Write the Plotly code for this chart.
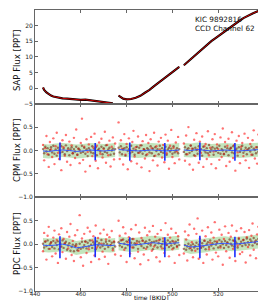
import plotly.graph_objects as go
from plotly.subplots import make_subplots

# ---------------- data ----------------
SAP_T = [443.5, 444, 445, 446, 447, 448, 449, 450, 452, 454, 456, 458, 460, 462, 464, 466, 468, 470, 472, 474, None,
         476.5, 477.5, 478.5, 480, 482, 484, 486, 488, 490, 492, 494, 496, 498, 500, 502, 503, None,
         505, 507, 509, 511, 513, 515, 517, 519, 521, 523, 525, 527, 529, 531, 533, 535, 537, 538]
SAP_V = [0.2, -0.6, -1.4, -2.0, -2.4, -2.7, -2.9, -3.1, -3.3, -3.4, -3.6, -3.7, -3.8, -3.7, -3.9, -4.0, -4.2, -4.4, -4.6, -4.9, None,
         -2.4, -3.0, -3.4, -3.6, -3.5, -3.1, -2.5, -1.5, -0.6, 0.6, 1.7, 2.8, 3.9, 4.9, 6.2, 6.8, None,
         7.3, 8.6, 10.0, 11.3, 12.6, 13.8, 15.0, 16.1, 17.2, 18.3, 19.4, 20.4, 21.4, 22.4, 23.2, 23.9, 24.5, 24.8]

T = [443.5, 444.0, 444.5, 445.0, 445.5, 446.0, 446.5, 447.0, 447.5, 448.0,
     448.5, 449.0, 449.5, 450.0, 450.5, 451.0, 451.5, 452.0, 452.5, 453.0,
     453.5, 454.0, 454.5, 455.0, 455.5, 456.0, 456.5, 457.0, 457.5, 458.0,
     458.5, 459.0, 459.5, 460.0, 460.5, 461.0, 461.5, 462.0, 462.5, 463.0,
     463.5, 464.0, 464.5, 465.0, 465.5, 466.0, 466.5, 467.0, 467.5, 468.0,
     468.5, 469.0, 469.5, 470.0, 470.5, 471.0, 471.5, 472.0, 472.5, 473.0,
     473.5, 474.0, 474.5, 475.0,
     476.5, 477.0, 477.5, 478.0, 478.5, 479.0, 479.5, 480.0, 480.5, 481.0,
     481.5, 482.0, 482.5, 483.0, 483.5, 484.0, 484.5, 485.0, 485.5, 486.0,
     486.5, 487.0, 487.5, 488.0, 488.5, 489.0, 489.5, 490.0, 490.5, 491.0,
     491.5, 492.0, 492.5, 493.0, 493.5, 494.0, 494.5, 495.0, 495.5, 496.0,
     496.5, 497.0, 497.5, 498.0, 498.5, 499.0, 499.5, 500.0, 500.5, 501.0,
     501.5, 502.0, 502.5, 503.0,
     505.0, 505.5, 506.0, 506.5, 507.0, 507.5, 508.0, 508.5, 509.0, 509.5,
     510.0, 510.5, 511.0, 511.5, 512.0, 512.5, 513.0, 513.5, 514.0, 514.5,
     515.0, 515.5, 516.0, 516.5, 517.0, 517.5, 518.0, 518.5, 519.0, 519.5,
     520.0, 520.5, 521.0, 521.5, 522.0, 522.5, 523.0, 523.5, 524.0, 524.5,
     525.0, 525.5, 526.0, 526.5, 527.0, 527.5, 528.0, 528.5, 529.0, 529.5,
     530.0, 530.5, 531.0, 531.5, 532.0, 532.5, 533.0, 533.5, 534.0, 534.5,
     535.0, 535.5, 536.0, 536.5, 537.0, 537.5, 538.0]

CPM_RED = [0.12, -0.21, 0.05, 0.31, -0.08, -0.35, 0.18, 0.02, -0.14, 0.26,
           -0.29, 0.09, 0.38, -0.05, -0.18, 0.14, -0.42, 0.22, 0.07, -0.11,
           0.33, -0.24, 0.01, 0.19, -0.31, 0.11, -0.06, 0.27, -0.16, 0.45,
           -0.09, 0.04, -0.27, 0.16, 0.68, -0.2, 0.08, -0.45, 0.24, -0.03,
           0.13, -0.33, 0.29, -0.12, 0.06, 0.36, -0.22, 0.1, -0.38, 0.17,
           -0.07, 0.25, -0.15, 0.03, 0.4, -0.26, 0.12, -0.1, 0.21, -0.34,
           0.08, 0.28, -0.19, 0.15,
           0.6, -0.18, 0.22, 0.04, -0.3, 0.35, -0.09, 0.14, -0.4, 0.26,
           0.01, -0.23, 0.18, 0.42, -0.13, 0.07, -0.28, 0.3, -0.05, 0.11,
           -0.36, 0.2, 0.03, -0.17, 0.33, -0.08, 0.16, -0.44, 0.24, 0.05,
           -0.21, 0.38, -0.11, 0.09, -0.32, 0.19, 0.02, 0.27, -0.15, 0.12,
           -0.25, 0.34, -0.06, 0.21, -0.39, 0.1, 0.44, -0.14, 0.06, -0.27,
           0.17, -0.02, 0.29, -0.19,
           0.15, -0.22, 0.32, -0.08, 0.5, -0.3, 0.11, 0.04, -0.41, 0.23,
           -0.12, 0.37, 0.02, -0.26, 0.19, -0.05, 0.3, -0.35, 0.09, 0.14,
           -0.18, 0.41, -0.1, 0.06, -0.29, 0.24, -0.02, 0.35, -0.38, 0.13,
           0.03, -0.2, 0.28, -0.14, 0.47, -0.07, 0.18, -0.33, 0.1, 0.25,
           -0.24, 0.05, 0.39, -0.16, 0.12, -0.43, 0.21, -0.04, 0.31, -0.27,
           0.08, 0.16, -0.12, 0.36, -0.21, 0.01, 0.27, -0.37, 0.14, -0.09,
           0.22, 0.43, -0.17, 0.07, -0.28, 0.34, 0.1]

PDC_RED = [-0.15, 0.24, 0.06, -0.33, 0.18, 0.37, -0.1, 0.03, -0.26, 0.14,
           0.29, -0.2, 0.09, -0.4, 0.21, -0.06, 0.34, -0.17, 0.11, 0.02,
           -0.31, 0.26, -0.09, 0.16, 0.43, -0.23, 0.07, -0.36, 0.19, -0.04,
           0.3, -0.14, 0.62, -0.28, 0.12, -0.46, 0.22, 0.05, -0.19, 0.35,
           -0.11, 0.27, -0.38, 0.08, 0.17, -0.24, 0.4, -0.07, 0.13, -0.32,
           0.23, 0.01, -0.16, 0.31, -0.27, 0.1, 0.2, -0.42, 0.15, -0.02,
           0.28, -0.13, 0.06, -0.22,
           0.5, 0.18, -0.25, 0.09, 0.36, -0.12, 0.23, -0.38, 0.04, 0.15,
           -0.2, 0.32, -0.07, 0.11, -0.3, 0.41, 0.02, -0.16, 0.25, -0.43,
           0.13, 0.07, -0.22, 0.35, -0.1, 0.19, -0.34, 0.27, 0.01, -0.14,
           0.39, -0.05, 0.16, -0.28, 0.22, 0.08, -0.37, 0.3, -0.09, 0.12,
           -0.19, 0.45, -0.02, 0.2, -0.26, 0.14, 0.33, -0.11, 0.05, -0.4,
           0.24, -0.06, 0.17, -0.23,
           -0.2, 0.27, 0.1, -0.35, 0.19, 0.42, -0.08, 0.04, -0.28, 0.33,
           -0.14, 0.22, 0.55, -0.31, 0.12, -0.05, 0.29, -0.4, 0.08, 0.17,
           -0.22, 0.36, -0.11, 0.03, 0.25, -0.33, 0.14, 0.47, -0.18, 0.06,
           -0.26, 0.31, -0.07, 0.2, -0.44, 0.11, 0.38, -0.15, 0.02, 0.24,
           -0.29, 0.16, 0.4, -0.1, 0.07, -0.36, 0.28, -0.03, 0.13, -0.21,
           0.34, -0.17, 0.09, 0.26, -0.39, 0.15, -0.06, 0.3, -0.24, 0.18,
           0.44, -0.12, 0.05, -0.3, 0.21, 0.37, -0.09]

CPM_CORE = [0.03, -0.06, 0.08, -0.02, 0.05, -0.09, 0.01, 0.07, -0.04, 0.1,
            -0.07, 0.02, -0.11, 0.06, 0.0, -0.05, 0.09, -0.03, 0.04, -0.08,
            0.11, -0.01, 0.05, -0.1, 0.02, 0.07, -0.06, 0.03, -0.02, 0.08,
            -0.09, 0.04, 0.01, -0.05, 0.1, -0.03, 0.06, -0.07, 0.02, -0.12,
            0.05, 0.0, -0.04, 0.09, -0.06, 0.03, 0.07, -0.1, 0.01, 0.04,
            -0.02, 0.08, -0.08, 0.05, -0.03, 0.11, -0.05, 0.02, 0.06, -0.09,
            0.0, 0.04, -0.07, 0.03,
            0.06, -0.04, 0.09, -0.08, 0.02, 0.05, -0.11, 0.07, -0.01, 0.03,
            -0.06, 0.1, -0.03, 0.04, -0.09, 0.01, 0.08, -0.05, 0.06, -0.02,
            0.11, -0.07, 0.03, 0.0, -0.1, 0.05, 0.02, -0.04, 0.09, -0.06,
            0.04, -0.12, 0.07, -0.01, 0.03, -0.08, 0.1, -0.03, 0.05, -0.05,
            0.01, 0.08, -0.09, 0.02, 0.06, -0.02, 0.04, -0.07, 0.09, -0.04,
            0.0, 0.05, -0.06, 0.03,
            -0.03, 0.07, -0.08, 0.02, 0.05, -0.05, 0.1, -0.01, 0.04, -0.1,
            0.06, 0.01, -0.07, 0.09, -0.02, 0.03, -0.11, 0.08, 0.0, -0.04,
            0.05, -0.06, 0.12, -0.03, 0.02, 0.07, -0.09, 0.04, -0.01, 0.06,
            -0.05, 0.1, -0.07, 0.03, 0.0, -0.08, 0.08, -0.02, 0.05, -0.1,
            0.02, 0.06, -0.04, 0.09, -0.06, 0.01, 0.04, -0.11, 0.07, -0.03,
            0.03, 0.1, -0.05, 0.0, 0.06, -0.08, 0.02, 0.05, -0.02, 0.08,
            -0.09, 0.04, 0.01, -0.06, 0.07, -0.03, 0.05]

PDC_CORE = [0.01, -0.07, 0.05, -0.04, 0.08, -0.1, 0.0, 0.04, -0.06, 0.07,
            -0.09, 0.03, -0.02, 0.06, -0.11, 0.02, -0.05, 0.08, -0.08, 0.01,
            0.05, -0.12, -0.03, 0.02, -0.14, -0.06, -0.01, -0.15, -0.04, 0.0,
            -0.13, -0.08, 0.01, -0.1, 0.05, -0.07, -0.02, 0.06, -0.09, 0.03,
            -0.05, 0.08, -0.01, -0.08, 0.04, 0.0, -0.11, 0.06, -0.03, 0.02,
            -0.07, 0.09, -0.04, 0.01, -0.1, 0.05, 0.0, -0.06, 0.07, -0.02,
            0.03, -0.09, 0.04, -0.05,
            0.04, -0.03, 0.08, -0.06, 0.1, 0.01, -0.08, 0.06, -0.02, 0.09,
            -0.05, 0.03, 0.11, -0.07, 0.02, -0.01, 0.07, -0.1, 0.05, 0.0,
            -0.04, 0.08, -0.08, 0.03, 0.06, -0.06, 0.01, 0.09, -0.03, 0.04,
            -0.11, 0.05, -0.02, 0.07, -0.07, 0.02, 0.1, -0.05, 0.0, 0.06,
            -0.09, 0.03, -0.01, 0.08, -0.06, 0.04, -0.03, 0.07, -0.08, 0.01,
            0.05, -0.04, 0.09, -0.02,
            -0.1, -0.02, -0.12, -0.05, 0.01, -0.09, -0.03, -0.13, 0.0, -0.07,
            -0.04, 0.03, -0.1, -0.01, 0.05, -0.08, 0.02, -0.05, 0.07, -0.11,
            0.0, 0.04, -0.06, 0.08, -0.03, 0.02, -0.09, 0.06, -0.01, 0.03,
            -0.07, 0.09, -0.04, 0.05, 0.0, -0.08, 0.07, -0.02, 0.04, -0.06,
            0.1, 0.01, -0.03, 0.08, -0.05, 0.06, 0.02, -0.07, 0.11, 0.0,
            0.05, -0.04, 0.09, 0.02, -0.02, 0.12, 0.04, -0.01, 0.1, 0.06,
            -0.03, 0.13, 0.03, 0.08, 0.0, 0.11, 0.05]

MED_T = [[443.5, 446, 449, 452, 455, 458, 461, 464, 467, 470, 473, 475],
         [476.5, 479, 482, 485, 488, 491, 494, 497, 500, 503],
         [505, 508, 511, 514, 517, 520, 523, 526, 529, 532, 535, 538]]
CPM_MED = [[-0.01, -0.02, 0.0, 0.01, 0.0, -0.02, -0.01, 0.01, 0.0, -0.01, 0.0, 0.01],
           [0.02, 0.01, 0.0, -0.01, 0.0, 0.01, 0.0, -0.01, 0.0, 0.01],
           [0.01, 0.0, 0.02, 0.0, -0.01, 0.0, 0.01, 0.0, -0.01, 0.0, 0.01, 0.02]]
PDC_MED = [[-0.02, -0.03, -0.02, 0.0, -0.03, -0.08, -0.06, -0.03, -0.01, -0.02, -0.03, -0.02],
           [0.02, 0.0, -0.02, -0.01, 0.01, 0.03, 0.02, 0.0, 0.02, 0.03],
           [-0.02, -0.06, -0.05, -0.03, 0.0, 0.01, 0.02, 0.0, 0.01, 0.02, 0.04, 0.06]]
BAND_HALF = 0.15

TRANSIT_T = [450.9, 466.3, 481.4, 496.7, 512.0, 527.3]
CPM_TR_LO = [-0.21, -0.21, -0.22, -0.22, -0.21, -0.22]
CPM_TR_HI = [0.17, 0.16, 0.17, 0.16, 0.17, 0.16]
PDC_TR_LO = [-0.3, -0.28, -0.28, -0.28, -0.3, -0.28]
PDC_TR_HI = [0.17, 0.16, 0.15, 0.15, 0.18, 0.16]

X_TICKS = [440, 460, 480, 500, 520, 540]
SAP_TICKS = [-5, 0, 5, 10, 15, 20, 25]
SAP_TICK_TEXT = ["\u22125", "0", "5", "10", "15", "20", "25"]
RES_TICKS = [-1.0, -0.5, 0.0, 0.5]
RES_TICK_TEXT = ["\u22121.0", "\u22120.5", "0.0", "0.5"]

# ---------------- figure ----------------
fig = make_subplots(rows=3, cols=1, shared_xaxes=True, vertical_spacing=0)

fig.add_trace(go.Scatter(x=SAP_T, y=SAP_V, mode="lines", line=dict(color="black", width=2.2),
                         connectgaps=False, hoverinfo="skip"), row=1, col=1)
fig.add_trace(go.Scatter(x=SAP_T, y=SAP_V, mode="lines", line=dict(color="#d00000", width=1),
                         connectgaps=False, hoverinfo="skip"), row=1, col=1)


def residual_panel(row, red, core, med, lo, hi):
    for ts, ms in zip(MED_T, med):
        up = [m + BAND_HALF for m in ms]
        dn = [m - BAND_HALF for m in ms]
        fig.add_trace(go.Scatter(x=ts + ts[::-1], y=up + dn[::-1], mode="lines", fill="toself",
                                 fillcolor="rgba(175,220,165,0.75)", line=dict(width=0),
                                 hoverinfo="skip"), row=row, col=1)
    fig.add_trace(go.Scatter(x=T, y=red, mode="markers",
                             marker=dict(size=2.4, color="rgba(255,20,20,0.6)", line=dict(width=0)),
                             hoverinfo="skip"), row=row, col=1)
    fig.add_trace(go.Scatter(x=T, y=core, mode="markers",
                             marker=dict(size=2.4, color="rgba(120,40,20,0.6)", line=dict(width=0)),
                             hoverinfo="skip"), row=row, col=1)
    for ts, ms in zip(MED_T, med):
        fig.add_trace(go.Scatter(x=ts, y=ms, mode="lines", line=dict(color="#3355ff", width=1),
                                 hoverinfo="skip"), row=row, col=1)
    vx, vy = [], []
    for t, a, b in zip(TRANSIT_T, lo, hi):
        vx += [t, t, None]
        vy += [a, b, None]
    fig.add_trace(go.Scatter(x=vx, y=vy, mode="lines", line=dict(color="#1a2cff", width=1.6),
                             hoverinfo="skip"), row=row, col=1)


residual_panel(2, CPM_RED, CPM_CORE, CPM_MED, CPM_TR_LO, CPM_TR_HI)
residual_panel(3, PDC_RED, PDC_CORE, PDC_MED, PDC_TR_LO, PDC_TR_HI)

axis_common = dict(showline=True, linecolor="#666666", linewidth=1, mirror="ticks", ticks="inside",
                   ticklen=3, tickcolor="#666666", showgrid=False, zeroline=False,
                   tickfont=dict(family="DejaVu Sans", size=6, color="#222222"))

for r in (1, 2, 3):
    fig.update_xaxes(range=[440, 540], tickvals=X_TICKS, showticklabels=(r == 3), row=r, col=1,
                     **axis_common)
fig.update_xaxes(ticklabelstandoff=-3, ticklabeloverflow="allow",
                 tickfont=dict(family="DejaVu Sans", size=5.5, color="#222222"), row=3, col=1)
fig.update_yaxes(range=[-5, 25], tickvals=SAP_TICKS, ticktext=SAP_TICK_TEXT, row=1, col=1, **axis_common)
fig.update_yaxes(range=[-1, 1], tickvals=RES_TICKS, ticktext=RES_TICK_TEXT, row=2, col=1, **axis_common)
fig.update_yaxes(range=[-1, 1], tickvals=RES_TICKS, ticktext=RES_TICK_TEXT, row=3, col=1, **axis_common)

W, H = 266, 300
ML, MR, MT, MB = 27, 10, 2, 17
pw, ph = W - ML - MR, H - MT - MB


def px(xp):
    return (xp - ML) / pw


def py(yp):
    return (H - MB - yp) / ph


title_font = dict(family="DejaVu Sans", size=8.5, color="#111111")
for label, yc in [("SAP Flux [PPT]", 52), ("CPM Flux [PPT]", 142), ("PDC Flux [PPT]", 236)]:
    fig.add_annotation(text=label, xref="paper", yref="paper", x=px(9), y=py(yc), textangle=-90,
                       showarrow=False, xanchor="center", yanchor="middle", font=title_font)
fig.add_annotation(text="time [BKJD]", xref="paper", yref="paper", x=px(143), y=py(290),
                   showarrow=False, xanchor="center", yanchor="middle", borderpad=0,
                   font=dict(family="DejaVu Sans", size=6, color="#000000"))
fig.add_annotation(text="KIC 9892816<br>CCD Channel 62", xref="paper", yref="paper", x=px(185), y=py(5),
                   showarrow=False, xanchor="left", yanchor="top", align="left",
                   font=dict(family="DejaVu Sans", size=7.3, color="#111111"))

fig.update_layout(width=W, height=H, margin=dict(l=ML, r=MR, t=MT, b=MB), showlegend=False,
                  plot_bgcolor="white", paper_bgcolor="white")

fig.write_html("out.html")
